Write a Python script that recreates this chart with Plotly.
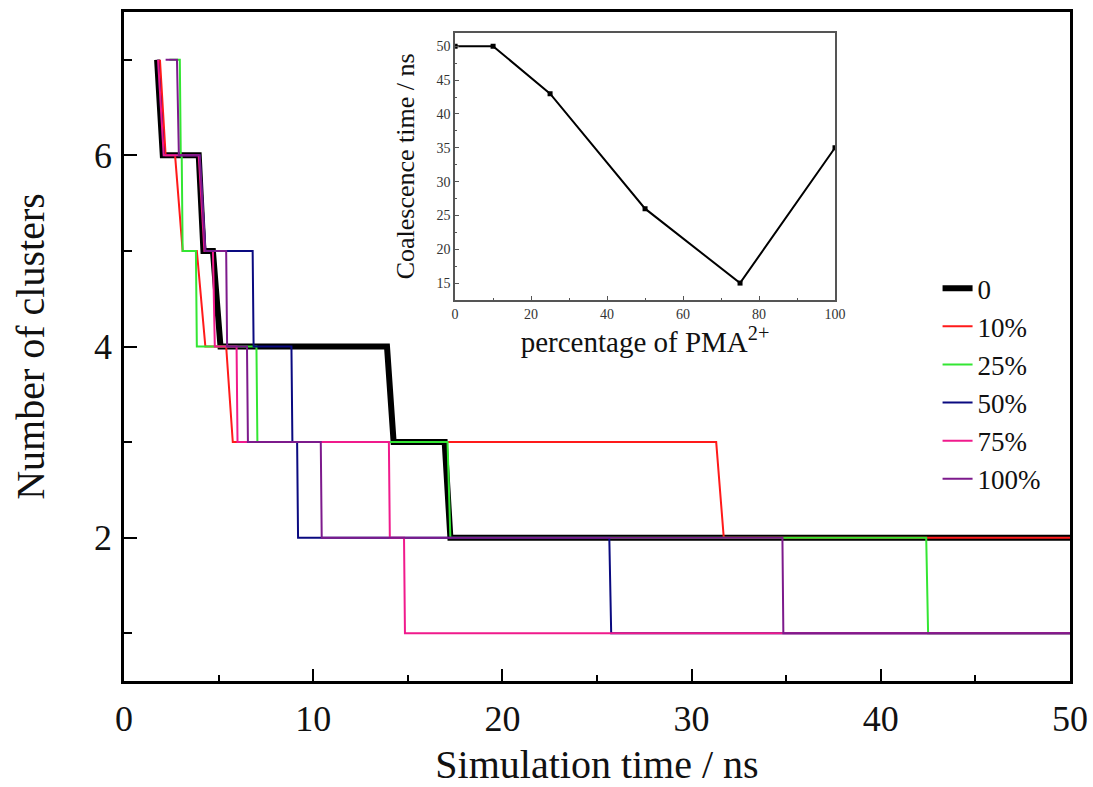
import plotly.graph_objects as go

# ---- main chart data: number of clusters vs simulation time (ns) ----
t_0 = [1.75, 2.05, 3.95, 4.2, 4.7, 5.1, 13.9, 14.25, 16.95, 17.25, 50]
n_0 = [7, 6, 6, 5, 5, 4, 4, 3, 3, 2, 2]

t_10 = [1.9, 2.2, 2.7, 3.1, 3.85, 4.3, 5.4, 5.75, 31.3, 31.7, 50]
n_10 = [7, 6, 6, 5, 5, 4, 4, 3, 3, 2, 2]

t_25 = [2.4, 2.95, 3.0, 3.05, 3.1, 3.8, 3.85, 7.0, 7.05, 17.1, 17.25, 42.4, 42.5, 50]
n_25 = [7, 7, 6, 6, 5, 5, 4, 4, 3, 3, 2, 2, 1, 1]

t_50 = [1.8, 2.1, 4.0, 4.3, 6.8, 6.85, 8.85, 8.9, 9.15, 9.2, 25.65, 25.75, 50]
n_50 = [7, 6, 6, 5, 5, 4, 4, 3, 3, 2, 2, 1, 1]

t_75 = [1.8, 2.1, 3.95, 4.25, 4.7, 4.8, 5.95, 6.0, 14.0, 14.05, 14.8, 14.85, 50]
n_75 = [7, 6, 6, 5, 5, 4, 4, 3, 3, 2, 2, 1, 1]

t_100 = [2.2, 2.8, 2.9, 4.0, 4.3, 5.4, 5.45, 6.5, 6.55, 10.4, 10.45, 34.8, 34.85, 50]
n_100 = [7, 7, 6, 6, 5, 5, 4, 4, 3, 3, 2, 2, 1, 1]

series_names = ["0", "10%", "25%", "50%", "75%", "100%"]

# ---- inset data: coalescence time vs percentage of PMA2+ ----
pct = [0, 10, 25, 50, 75, 100]
coal_time = [50, 50, 43, 26, 15, 35]

FONT = "Liberation Serif"

series = [
    (t_0, n_0, "#000000", 6),
    (t_10, n_10, "#ff1a1a", 2),
    (t_25, n_25, "#33e633", 2),
    (t_50, n_50, "#0a0a80", 2),
    (t_75, n_75, "#f01a8c", 2),
    (t_100, n_100, "#7d1a8c", 2),
]

fig = go.Figure()
for (t, n, col, w), name in zip(series, series_names):
    fig.add_trace(go.Scatter(x=t, y=n, mode="lines", name=name,
                             line=dict(color=col, width=w),
                             xaxis="x", yaxis="y"))

fig.add_trace(go.Scatter(x=pct, y=coal_time, mode="lines+markers",
                         line=dict(color="#000000", width=2),
                         marker=dict(symbol="square", size=5, color="#000000"),
                         showlegend=False, xaxis="x2", yaxis="y2"))

fig.update_layout(
    width=1093, height=787,
    margin=dict(l=124, r=23, t=12, b=106),
    paper_bgcolor="white", plot_bgcolor="white",
    font=dict(family=FONT, color="#111111"),
    showlegend=True,
    legend=dict(x=0.86, y=0.623, xanchor="left", yanchor="top",
                font=dict(family=FONT, size=27, color="#111111"),
                bgcolor="rgba(255,255,255,0)", borderwidth=0),
    xaxis=dict(domain=[0, 1], range=[0, 50], dtick=10, tick0=0,
               automargin=False,
               showgrid=False, zeroline=False,
               showline=True, linecolor="black", linewidth=2.5, mirror=True,
               ticks="inside", ticklen=12, tickwidth=1.5, tickcolor="black",
               minor=dict(ticks="inside", ticklen=6, dtick=5, tick0=0,
                          tickcolor="black", tickwidth=1.5),
               tickfont=dict(family=FONT, size=36, color="#111111"),
               ticklabelstandoff=4,
               title=dict(text="Simulation time / ns",
                          font=dict(family=FONT, size=40, color="#111111"),
                          standoff=22)),
    yaxis=dict(domain=[0, 1], range=[0.5, 7.5], dtick=2, tick0=0,
               automargin=False,
               showgrid=False, zeroline=False,
               showline=True, linecolor="black", linewidth=2.5, mirror=True,
               ticks="inside", ticklen=13, tickwidth=1.5, tickcolor="black",
               minor=dict(ticks="inside", ticklen=8, dtick=1, tick0=0,
                          tickcolor="black", tickwidth=1.5),
               tickfont=dict(family=FONT, size=36, color="#111111"),
               ticklabelstandoff=2,
               title=dict(text="Number of clusters",
                          font=dict(family=FONT, size=40, color="#111111"),
                          standoff=38)),
    xaxis2=dict(domain=[0.35, 0.7516], anchor="y2", range=[0, 100],
                automargin=False,
                dtick=20, tick0=0, showgrid=False, zeroline=False,
                showline=True, linecolor="#555555", linewidth=1.5, mirror=True,
                ticks="inside", ticklen=4, tickcolor="#555555",
                minor=dict(ticks="inside", ticklen=2, dtick=10, tick0=0,
                           tickcolor="#555555"),
                tickfont=dict(family=FONT, size=14, color="#333333"),
                title=dict(text="percentage of PMA<sup>2+</sup>",
                           font=dict(family=FONT, size=29, color="#111111"),
                           standoff=10)),
    yaxis2=dict(domain=[0.5695, 0.969], anchor="x2", range=[12.5, 52],
                automargin=False,
                dtick=5, tick0=0, showgrid=False, zeroline=False,
                showline=True, linecolor="#555555", linewidth=1.5, mirror=True,
                ticks="inside", ticklen=4, tickcolor="#555555",
                minor=dict(ticks="inside", ticklen=2, dtick=2.5, tick0=0,
                           tickcolor="#555555"),
                tickfont=dict(family=FONT, size=14, color="#333333"),
                title=dict(text="Coalescence time / ns",
                           font=dict(family=FONT, size=26, color="#111111"),
                           standoff=14)),
)

fig.write_html("out.html")
